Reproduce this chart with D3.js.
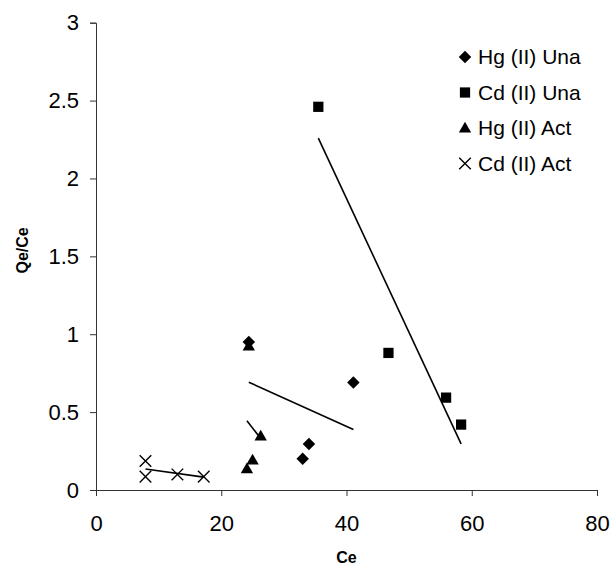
<!DOCTYPE html>
<html>
<head>
<meta charset="utf-8">
<script src="https://cdn.jsdelivr.net/npm/d3@7"></script>
<style>
  body { margin: 0; background: #fff; }
  text { font-family: "Liberation Sans", Arial, sans-serif; fill: #000; }
</style>
</head>
<body>
<div id="chart"></div>
<script>
// values
var hgUnaX = [24.4, 41.1, 34.0, 33.0];
var hgUnaY = [0.95, 0.69, 0.295, 0.20];
var cdUnaX = [35.5, 46.7, 55.9, 58.3];
var cdUnaY = [2.46, 0.88, 0.593, 0.42];
var hgActX = [24.4, 26.3, 25.0, 24.1];
var hgActY = [0.925, 0.347, 0.193, 0.137];
var cdActX = [7.9, 7.9, 13.0, 17.2];
var cdActY = [0.186, 0.086, 0.10, 0.086];

var seriesNames = ['Hg (II) Una', 'Cd (II) Una', 'Hg (II) Act', 'Cd (II) Act'];
var seriesShapes = ['diamond', 'square', 'triangle', 'cross'];
var xTicks = [0, 20, 40, 60, 80];
var yTicks = [0, 0.5, 1, 1.5, 2, 2.5, 3];

var chart = { width: 616, height: 568, margin: [22.7, 19, 78, 96] }; // top right bottom left
var w = chart.width - chart.margin[1] - chart.margin[3];
var h = chart.height - chart.margin[0] - chart.margin[2];

var xScale = d3.scaleLinear().domain([0, 80]).range([0, w]);
var yScale = d3.scaleLinear().domain([0, 3]).range([h, 0]);

function translate(x, y) { return 'translate(' + x + ',' + y + ')'; }

function zipSeries(xs, ys) {
  return xs.map(function(x, i) { return { x: x, y: ys[i] }; });
}

var series = [
  zipSeries(hgUnaX, hgUnaY),
  zipSeries(cdUnaX, cdUnaY),
  zipSeries(hgActX, hgActY),
  zipSeries(cdActX, cdActY)
];

// least squares trendline over the range of each series
function trend(pts) {
  var mx = d3.mean(pts, function(d) { return d.x; });
  var my = d3.mean(pts, function(d) { return d.y; });
  var sxy = d3.sum(pts, function(d) { return (d.x - mx) * (d.y - my); });
  var sxx = d3.sum(pts, function(d) { return (d.x - mx) * (d.x - mx); });
  var b = sxy / sxx, a = my - b * mx;
  var ext = d3.extent(pts, function(d) { return d.x; });
  return [{ x: ext[0], y: a + b * ext[0] }, { x: ext[1], y: a + b * ext[1] }];
}

function marker(sel, shape) {
  if (shape === 'diamond') {
    sel.append('path').attr('d', d3.symbol().type(d3.symbolSquare).size(78)())
      .attr('transform', 'rotate(45)').attr('fill', '#000');
  } else if (shape === 'square') {
    sel.append('path').attr('d', d3.symbol().type(d3.symbolSquare).size(105)()).attr('fill', '#000');
  } else if (shape === 'triangle') {
    sel.append('path').attr('d', d3.symbol().type(d3.symbolTriangle).size(66)())
      .attr('transform', 'translate(0,1)').attr('fill', '#000');
  } else {
    sel.append('path').attr('d', 'M-5.8,-5.8L5.8,5.8M-5.8,5.8L5.8,-5.8')
      .attr('stroke', '#000').attr('stroke-width', 1.4).attr('fill', 'none');
  }
}

var svg = d3.select('#chart').append('svg')
    .attr('width', chart.width)
    .attr('height', chart.height)
  .append('g')
    .attr('transform', translate(chart.margin[3], chart.margin[0]));

// axes
var xAxis = d3.axisBottom(xScale).tickValues(xTicks).tickSize(6).tickPadding(19).tickFormat(d3.format('d'));
var yAxis = d3.axisLeft(yScale).tickValues(yTicks).tickSize(6).tickPadding(11).tickFormat(function(d) { return String(d); });

var gx = svg.append('g').attr('transform', translate(0, h)).call(xAxis);
var gy = svg.append('g').call(yAxis);
[gx, gy].forEach(function(g) {
  g.select('.domain').attr('stroke', '#333');
  g.selectAll('.tick line').attr('stroke', '#333');
  g.selectAll('.tick text').style('font-size', '22px').style('font-family', '"Liberation Sans", Arial, sans-serif');
});

svg.append('text')
  .attr('x', w / 2).attr('y', h + 73)
  .attr('text-anchor', 'middle')
  .style('font-size', '16px').style('font-weight', 'bold')
  .text('Ce');

svg.append('text')
  .attr('transform', translate(-68, h / 2 - 6) + ' rotate(-90)')
  .attr('text-anchor', 'middle')
  .style('font-size', '16px').style('font-weight', 'bold')
  .text('Qe/Ce');

// trendlines
var line = d3.line().x(function(d) { return xScale(d.x); }).y(function(d) { return yScale(d.y); });
series.forEach(function(pts) {
  svg.append('path')
    .attr('d', line(trend(pts)))
    .attr('stroke', '#000').attr('stroke-width', 1.6).attr('fill', 'none');
});

// points
series.forEach(function(pts, i) {
  svg.selectAll('g.pt' + i)
      .data(pts)
    .enter().append('g')
      .attr('class', 'pt' + i)
      .attr('transform', function(d) { return translate(xScale(d.x), yScale(d.y)); })
      .each(function() { marker(d3.select(this), seriesShapes[i]); });
});

// legend
var legend = svg.selectAll('g.legend')
    .data(seriesNames)
  .enter().append('g')
    .attr('class', 'legend')
    .attr('transform', function(d, i) { return translate(465 - chart.margin[3], 57 - chart.margin[0] + i * 35.5); });

legend.each(function(d, i) { marker(d3.select(this), seriesShapes[i]); });
legend.append('text')
  .attr('x', 13).attr('dy', '0.35em')
  .style('font-size', '21px')
  .text(function(d) { return d; });
</script>
</body>
</html>
